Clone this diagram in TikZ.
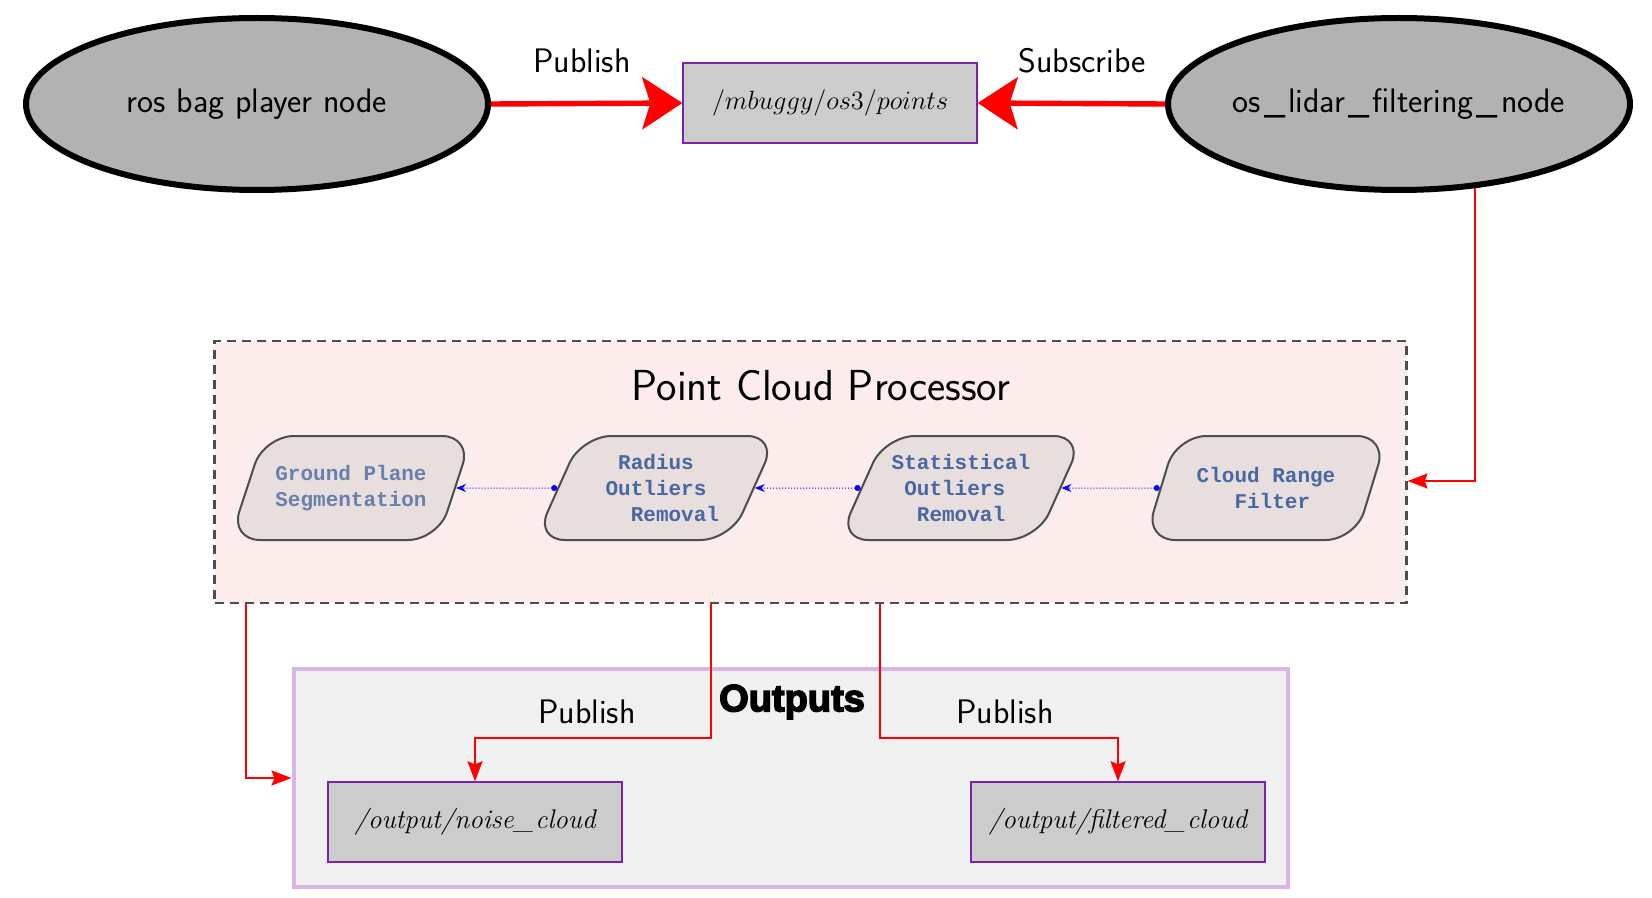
\documentclass[tikz,border=0pt]{standalone}
\usepackage{graphicx}
\usepackage{fontspec}
\usetikzlibrary{shapes.geometric,arrows.meta}
\newfontfamily\codefont{Liberation Mono}
\newfontfamily\headfont[BoldFeatures={FakeBold=4}]{Liberation Sans}
\definecolor{procfill}{RGB}{253,236,236}
\definecolor{procline}{RGB}{77,77,77}
\definecolor{filterfill}{RGB}{232,222,222}
\definecolor{filtertext}{RGB}{72,104,163}
\definecolor{filterpale}{RGB}{104,128,172}
\definecolor{topicline}{RGB}{128,32,170}
\definecolor{outfill}{RGB}{240,240,240}
\definecolor{outline}{RGB}{216,182,226}
\newcommand{\pad}{\hphantom{x}}
\newcommand{\usc}{\kern1.5pt\_\kern1.5pt}

\tikzset{
  rosnode/.style={ellipse, draw=black, line width=3pt, fill=black!30, inner sep=0pt,
    minimum width=231pt, minimum height=86pt, font=\sffamily\fontsize{17}{20}\selectfont},
  topic/.style={rectangle, draw=topicline, line width=0.7pt, fill=black!20, inner sep=0pt,
    minimum width=147pt, minimum height=40pt, font=\fontsize{12}{14}\selectfont},
  filter/.style={trapezium, trapezium left angle=60, trapezium right angle=120,
    trapezium stretches body=true, draw=procline, line width=1pt, fill=filterfill,
    rounded corners=15pt, minimum width=121pt, minimum height=52pt, align=center,
    text=filtertext, font=\codefont\bfseries\fontsize{10.5}{13}\selectfont},
  procbox/.style={rectangle, draw=procline, fill=procfill, line width=1.1pt,
    dash pattern=on 4.5pt off 3pt, minimum width=596pt, minimum height=131pt},
  outbox/.style={rectangle, draw=outline, fill=outfill, line width=2pt,
    minimum width=497pt, minimum height=109pt},
  lbl/.style={font=\sffamily\fontsize{17}{20}\selectfont},
  pub/.style={draw=red, line width=2.7pt, -{Stealth[length=20pt,width=26pt,inset=4pt]}},
  flow/.style={draw=red, line width=1pt, -{Stealth[length=10pt,width=7.5pt,inset=1.5pt]}},
  chain/.style={draw=blue, densely dotted, line width=0.5pt,
    {Circle[length=3pt]}-{Stealth[length=5pt,width=4pt]}},
}

\begin{document}
\begin{tikzpicture}[x=0.5pt,y=-0.5pt]
\useasboundingbox (0,0) rectangle (1652,898);

\node[procbox] (proc) at (810.5,472) {};
\node[font=\sffamily\fontsize{21.7}{25}\selectfont] (proctitle) at (821,386) {Point Cloud Processor};
\node[outbox] (outputs) at (790.5,778) {};
\node[font=\headfont\bfseries\fontsize{19}{22}\selectfont] (outtitle) at (792,702) {Outputs};

\node[rosnode] (rosbag) at (257,104) {\makebox[140pt]{ros bag player node}};
\node[topic] (points) at (830,103) {\scalebox{1.1}{$/mbuggy/os3/points$}};
\node[rosnode] (lidar) at (1399,104) {\makebox[140pt]{os\usc lidar\usc filtering\usc node}};

\node[filter, text=filterpale] (gps) at (351,488) {Ground Plane\\Segmentation};
\node[filter] (ror) at (656,488) {Radius\\Outliers\\\pad\pad\pad Removal};
\node[filter] (sor) at (961,488) {Statistical\\Outliers\pad\\Removal};
\node[filter] (crf) at (1266,488) {Cloud Range\\\pad Filter};

\node[topic, font=\itshape\fontsize{13.5}{16}\selectfont] (noise) at (475,822) {/output/noise\_\kern1pt cloud};
\node[topic, font=\itshape\fontsize{13.5}{16}\selectfont] (filtered) at (1118,822) {/output/filtered\_\kern1pt cloud};

\node[lbl] (pubtop) at (582,61) {Publish};
\node[lbl] (subtop) at (1082,61) {Subscribe};
\node[lbl] (pubnoise) at (587,712) {Publish};
\node[lbl] (pubfilt) at (1005,712) {Publish};

\draw[pub] (rosbag.east) -- (points.west);
\draw[pub] (lidar.west) -- (points.east);
\draw[flow] (lidar.-48) |- ([yshift=-4.5pt]proc.east);

\draw[chain] (crf.west) -- (sor.east);
\draw[chain] (sor.west) -- (ror.east);
\draw[chain] (ror.west) -- (gps.east);

\draw[flow] ([xshift=16.5pt]proc.south west) |- (outputs.west);
\draw[flow] ([xshift=249pt]proc.south west) -- ++(0,134) -| (noise.north);
\draw[flow] ([xshift=333.5pt]proc.south west) -- ++(0,134) -| (filtered.north);
\end{tikzpicture}
\end{document}
